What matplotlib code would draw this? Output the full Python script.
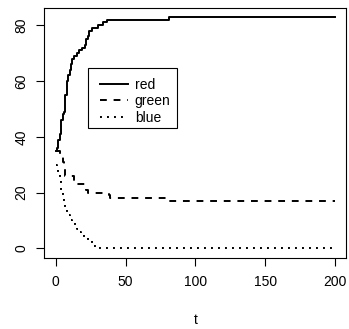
import matplotlib
matplotlib.use("Agg")
import matplotlib.pyplot as plt
from matplotlib.patches import Rectangle

plt.rcParams['font.family'] = ['Liberation Sans', 'DejaVu Sans']

# change points of each series (time, count), values held until the next change
red_t = [0, 1, 2, 3, 4, 5, 6, 7, 8, 9, 10, 11, 12, 13, 15, 17, 19, 21, 22, 23, 24, 26, 30, 34, 37, 81, 200]
red_v = [35, 36, 39, 41, 46, 48, 49, 55, 60, 62, 64, 66, 68, 69, 70, 71, 72, 73, 75, 76, 78, 79, 80, 81, 82, 83, 83]

green_t = [0, 3, 5, 6, 7, 13, 22, 23, 38, 39, 80, 200]
green_v = [35, 33, 31, 29, 26, 23, 21, 20, 19, 18, 17, 17]

blue_t = [0, 1, 2, 3, 4, 5, 6, 7, 8, 9, 10, 11, 12, 14, 15, 17, 18, 20, 23, 26, 27, 31, 200]
blue_v = [30, 29, 27, 24, 21, 18, 16, 14, 13, 12, 11, 10, 9, 8, 7, 6, 5, 4, 3, 2, 1, 0, 0]

labels = ["red", "green", "blue"]
x_ticks = [0, 50, 100, 150, 200]
y_ticks = [0, 20, 40, 60, 80]

fs = 10

fig = plt.figure(figsize=(3.49, 3.29), dpi=100)
ax = fig.add_axes([0.1275, 0.217, 0.8645, 0.76])

lw = 1.4
ax.plot(red_t, red_v, color="black", lw=lw, drawstyle="steps-post", label=labels[0])
ax.plot(green_t, green_v, color="black", lw=lw, drawstyle="steps-post",
        dashes=(3.5, 3.5), label=labels[1])
ax.plot(blue_t, blue_v, color="black", lw=lw, drawstyle="steps-post",
        dashes=(1, 2.6), label=labels[2])

ax.set_xlim(-8, 208)
ax.set_ylim(-3.32, 86.32)
ax.set_xticks(x_ticks)
ax.set_yticks(y_ticks)
ax.set_yticklabels([str(v) for v in y_ticks], rotation=90, va="center")
ax.tick_params(direction="out", length=5.5, width=0.8, labelsize=fs, pad=7, colors="black")
ax.tick_params(axis="y", pad=6)
for sp in ax.spines.values():
    sp.set_linewidth(0.8)
ax.set_xlabel("t", fontsize=fs, labelpad=17)

# legend box drawn separately (R style: wider padding left of the keys)
ax.add_patch(Rectangle((0.144, 0.517), 0.295, 0.24, transform=ax.transAxes,
                       facecolor="white", edgecolor="black", lw=0.8, zorder=4))
leg = ax.legend(loc="upper left", bbox_to_anchor=(0.184, 0.72), borderaxespad=0,
                borderpad=0, frameon=False, fontsize=fs, handlelength=2.0,
                handletextpad=0.5, labelspacing=0.2)
leg.set_zorder(5)

fig.savefig("out.png", dpi=100)
